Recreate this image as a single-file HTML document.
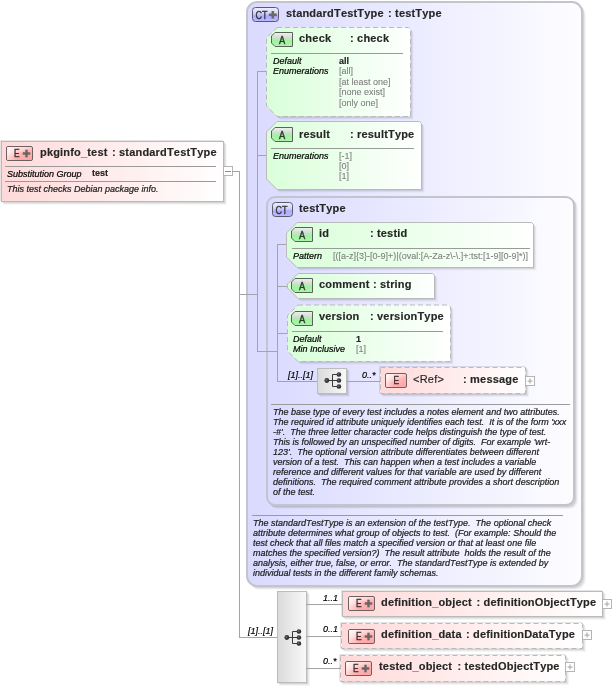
<!DOCTYPE html>
<html><head><meta charset="utf-8"><title>pkginfo_test</title>
<style>html,body{margin:0;padding:0;background:#fff;overflow:hidden}svg{display:block}
text{font-kerning:none;text-rendering:optimizeLegibility}</style></head>
<body><svg width="612" height="688" viewBox="0 0 612 688" font-family="'Liberation Sans', sans-serif" style="font-kerning:none;will-change:transform">
<defs>
<linearGradient id="gPink" x1="0" x2="1" y1="0" y2="0"><stop offset="0" stop-color="#ffd9d9"/><stop offset="1" stop-color="#ffffff"/></linearGradient>
<linearGradient id="gLav" x1="0" x2="1" y1="0" y2="0"><stop offset="0" stop-color="#dadaff"/><stop offset="1" stop-color="#fdfdff"/></linearGradient>
<linearGradient id="gGreen" x1="0" x2="1" y1="0" y2="0"><stop offset="0" stop-color="#d9ffd9"/><stop offset="1" stop-color="#ffffff"/></linearGradient>
<linearGradient id="gSeq" x1="0" x2="1" y1="0" y2="0"><stop offset="0" stop-color="#dadada"/><stop offset="1" stop-color="#f9f9f9"/></linearGradient>
<linearGradient id="gEb" x1="0" x2=".6" y1="0" y2="1"><stop offset="0" stop-color="#fffafa"/><stop offset=".45" stop-color="#ffd2d2"/><stop offset=".6" stop-color="#ffb6b6"/><stop offset="1" stop-color="#ffa6a6"/></linearGradient>
<linearGradient id="gEh" x1="0" x2="1" y1="0" y2="0"><stop offset="0" stop-color="#fff" stop-opacity=".5"/><stop offset=".4" stop-color="#fff" stop-opacity="0"/></linearGradient>
<linearGradient id="gAb" x1="0" x2="0" y1="0" y2="1"><stop offset="0" stop-color="#eef2ee"/><stop offset=".4" stop-color="#cfdccf"/><stop offset=".6" stop-color="#98f898"/><stop offset="1" stop-color="#b4f0b4"/></linearGradient>
<linearGradient id="gCb" x1="0" x2="0" y1="0" y2="1"><stop offset="0" stop-color="#f0f0ff"/><stop offset=".4" stop-color="#d6d6f8"/><stop offset=".62" stop-color="#acacff"/><stop offset="1" stop-color="#bcbcff"/></linearGradient>
<radialGradient id="gDot" cx=".4" cy=".4" r=".6"><stop offset="0" stop-color="#777"/><stop offset=".5" stop-color="#3a3a3a"/><stop offset="1" stop-color="#222"/></radialGradient>
</defs>
<rect x="4" y="144" width="223" height="61" rx="0" fill="#000" fill-opacity="0.035"/>
<rect x="3" y="143" width="223" height="61" rx="0" fill="#000" fill-opacity="0.06"/>
<rect x="2" y="142" width="223" height="61" rx="0" fill="#000" fill-opacity="0.09"/>
<rect x="0" y="140" width="223" height="1" fill="#000" fill-opacity=".1"/>
<rect x="0" y="141" width="1" height="60" fill="#000" fill-opacity=".1"/>
<rect x="1.5" y="141.5" width="222" height="60" rx="0" fill="url(#gPink)" stroke="#bababa"/>
<rect x="6.5" y="146.5" width="26" height="14" rx="1.5" fill="url(#gEb)" stroke="#6e6060"/>
<rect x="7" y="147" width="25" height="13" fill="url(#gEh)"/>
<text x="14" y="157" font-size="10" font-weight="normal" font-style="normal" fill="#3a3030" stroke="#3a3030" stroke-width="0.4" textLength="5.6" lengthAdjust="spacingAndGlyphs">E</text>
<rect x="22.7" y="152.3" width="7.6" height="2.4" fill="#666"/>
<rect x="25.3" y="149.7" width="2.4" height="7.6" fill="#666"/>
<text x="40" y="156" font-size="11" font-weight="bold" font-style="normal" fill="#262626" stroke="#262626" stroke-width="0.15"  textLength="67.35" lengthAdjust="spacing">pkginfo_test</text>
<text x="112" y="156" font-size="11" font-weight="bold" font-style="normal" fill="#262626" stroke="#262626" stroke-width="0.15"  textLength="104.51" lengthAdjust="spacing">: standardTestType</text>
<rect x="5" y="166" width="211" height="1" fill="#9a9a9a"/>
<text x="7" y="177" font-size="9" font-weight="normal" font-style="italic" fill="#000" stroke="#000" stroke-width="0.2" >Substitution Group</text>
<text x="92" y="176" font-size="9" font-weight="bold" font-style="normal" fill="#222" stroke="#222" stroke-width="0.15" >test</text>
<rect x="5" y="181" width="211" height="1" fill="#9a9a9a"/>
<text x="7" y="192" font-size="9" font-weight="normal" font-style="italic" fill="#1a1a1a" stroke="#1a1a1a" stroke-width="0.2" >This test checks Debian package info.</text>
<rect x="223.5" y="166.5" width="9" height="9" fill="#fff" stroke="#b4b4b4"/>
<rect x="225" y="171" width="6" height="1" fill="#8a8a8a"/>
<rect x="232" y="171" width="8" height="1" fill="#a4a4a4"/>
<rect x="239" y="171" width="1" height="467" fill="#a4a4a4"/>
<rect x="239" y="637" width="38" height="1" fill="#a4a4a4"/>
<rect x="250" y="5" width="336" height="585" rx="10" fill="#000" fill-opacity="0.035"/>
<rect x="249" y="4" width="336" height="585" rx="10" fill="#000" fill-opacity="0.06"/>
<rect x="248" y="3" width="336" height="585" rx="10" fill="#000" fill-opacity="0.09"/>
<rect x="247" y="2" width="335" height="584" rx="10" fill="url(#gLav)" stroke="#c4c4cc" stroke-width="2"/>
<rect x="252.5" y="7.5" width="26" height="14" rx="3" fill="url(#gCb)" stroke="#5a5a66"/>
<text x="255.5" y="19" font-size="10.5" font-weight="normal" font-style="normal" fill="#33333d" stroke="#33333d" stroke-width="0.35" textLength="12" lengthAdjust="spacingAndGlyphs">CT</text>
<rect x="268.8" y="13.5" width="8" height="2.6" fill="#6a6a66"/>
<rect x="271.5" y="11.0" width="2.6" height="7.6" fill="#6a6a66"/>
<text x="286" y="17" font-size="11" font-weight="bold" font-style="normal" fill="#262626" stroke="#262626" stroke-width="0.15"  textLength="97.59" lengthAdjust="spacing">standardTestType</text>
<text x="388" y="17" font-size="11" font-weight="bold" font-style="normal" fill="#262626" stroke="#262626" stroke-width="0.15"  textLength="53.51" lengthAdjust="spacing">: testType</text>
<rect x="239" y="294" width="19" height="1" fill="#a4a4a4"/>
<rect x="257" y="71" width="1" height="281" fill="#a4a4a4"/>
<rect x="257" y="71" width="10" height="1" fill="#a4a4a4"/>
<polygon points="280.0,30.5 411.5,30.5 413.5,32.5 413.5,119.5 280.0,119.5 269.5,109.0 269.5,41.0" fill="#000" fill-opacity="0.035"/>
<polygon points="279.0,29.5 410.5,29.5 412.5,31.5 412.5,118.5 279.0,118.5 268.5,108.0 268.5,40.0" fill="#000" fill-opacity="0.06"/>
<polygon points="278.0,28.5 409.5,28.5 411.5,30.5 411.5,117.5 278.0,117.5 267.5,107.0 267.5,39.0" fill="#000" fill-opacity="0.09"/>
<polygon points="277.0,27.5 408.5,27.5 410.5,29.5 410.5,116.5 277.0,116.5 266.5,106.0 266.5,38.0" fill="url(#gGreen)" stroke="#bababa" stroke-dasharray="5 3"/>
<polygon points="275.0,32.5 292.5,32.5 292.5,46.5 275.0,46.5 271.5,43.0 271.5,36.0" fill="url(#gAb)" stroke="#5a625a"/>
<text x="279" y="43.5" font-size="10.3" font-weight="normal" font-style="normal" fill="#303830" stroke="#303830" stroke-width="0.4" textLength="6.2" lengthAdjust="spacingAndGlyphs">A</text>
<text x="299" y="42" font-size="11" font-weight="bold" font-style="normal" fill="#262626" stroke="#262626" stroke-width="0.15"  textLength="32.13" lengthAdjust="spacing">check</text>
<text x="350" y="42" font-size="11" font-weight="bold" font-style="normal" fill="#262626" stroke="#262626" stroke-width="0.15"  textLength="39.05" lengthAdjust="spacing">: check</text>
<rect x="271" y="53" width="132" height="1" fill="#9a9a9a"/>
<text x="273" y="64" font-size="9" font-weight="normal" font-style="italic" fill="#000" stroke="#000" stroke-width="0.2" >Default</text>
<text x="339" y="64" font-size="9" font-weight="bold" font-style="normal" fill="#222" stroke="#222" stroke-width="0.15" >all</text>
<text x="273" y="74" font-size="9" font-weight="normal" font-style="italic" fill="#000" stroke="#000" stroke-width="0.2" >Enumerations</text>
<text x="339" y="74.0" font-size="9" font-weight="normal" font-style="normal" fill="#808080" stroke="#808080" stroke-width="0.1" >[all]</text>
<text x="339" y="84.5" font-size="9" font-weight="normal" font-style="normal" fill="#808080" stroke="#808080" stroke-width="0.1" >[at least one]</text>
<text x="339" y="95.0" font-size="9" font-weight="normal" font-style="normal" fill="#808080" stroke="#808080" stroke-width="0.1" >[none exist]</text>
<text x="339" y="105.5" font-size="9" font-weight="normal" font-style="normal" fill="#808080" stroke="#808080" stroke-width="0.1" >[only one]</text>
<rect x="257" y="155" width="10" height="1" fill="#a4a4a4"/>
<polygon points="280.0,124.5 422.5,124.5 424.5,126.5 424.5,192.5 280.0,192.5 269.5,182.0 269.5,135.0" fill="#000" fill-opacity="0.035"/>
<polygon points="279.0,123.5 421.5,123.5 423.5,125.5 423.5,191.5 279.0,191.5 268.5,181.0 268.5,134.0" fill="#000" fill-opacity="0.06"/>
<polygon points="278.0,122.5 420.5,122.5 422.5,124.5 422.5,190.5 278.0,190.5 267.5,180.0 267.5,133.0" fill="#000" fill-opacity="0.09"/>
<polygon points="277.0,121.5 419.5,121.5 421.5,123.5 421.5,189.5 277.0,189.5 266.5,179.0 266.5,132.0" fill="url(#gGreen)" stroke="#bababa"/>
<polygon points="275.0,127.5 292.5,127.5 292.5,141.5 275.0,141.5 271.5,138.0 271.5,131.0" fill="url(#gAb)" stroke="#5a625a"/>
<text x="279" y="138.5" font-size="10.3" font-weight="normal" font-style="normal" fill="#303830" stroke="#303830" stroke-width="0.4" textLength="6.2" lengthAdjust="spacingAndGlyphs">A</text>
<text x="299" y="138" font-size="11" font-weight="bold" font-style="normal" fill="#262626" stroke="#262626" stroke-width="0.15"  textLength="30.85" lengthAdjust="spacing">result</text>
<text x="350" y="138" font-size="11" font-weight="bold" font-style="normal" fill="#262626" stroke="#262626" stroke-width="0.15"  textLength="64.22" lengthAdjust="spacing">: resultType</text>
<rect x="271" y="148" width="143" height="1" fill="#9a9a9a"/>
<text x="273" y="159" font-size="9" font-weight="normal" font-style="italic" fill="#000" stroke="#000" stroke-width="0.2" >Enumerations</text>
<text x="339" y="159" font-size="9" font-weight="normal" font-style="normal" fill="#808080" stroke="#808080" stroke-width="0.1" >[-1]</text>
<text x="339" y="169" font-size="9" font-weight="normal" font-style="normal" fill="#808080" stroke="#808080" stroke-width="0.1" >[0]</text>
<text x="339" y="179" font-size="9" font-weight="normal" font-style="normal" fill="#808080" stroke="#808080" stroke-width="0.1" >[1]</text>
<rect x="270" y="200" width="308" height="309" rx="8" fill="#000" fill-opacity="0.035"/>
<rect x="269" y="199" width="308" height="309" rx="8" fill="#000" fill-opacity="0.06"/>
<rect x="268" y="198" width="308" height="309" rx="8" fill="#000" fill-opacity="0.09"/>
<rect x="267" y="197" width="307" height="308" rx="8" fill="url(#gLav)" stroke="#c4c4cc" stroke-width="2"/>
<rect x="257" y="351" width="21" height="1" fill="#a4a4a4"/>
<rect x="272.5" y="202.5" width="20" height="14" rx="3" fill="url(#gCb)" stroke="#5a5a66"/>
<text x="275.5" y="214" font-size="10.5" font-weight="normal" font-style="normal" fill="#33333d" stroke="#33333d" stroke-width="0.35" textLength="12" lengthAdjust="spacingAndGlyphs">CT</text>
<text x="299" y="212" font-size="11" font-weight="bold" font-style="normal" fill="#262626" stroke="#262626" stroke-width="0.15"  textLength="46.59" lengthAdjust="spacing">testType</text>
<rect x="277" y="244" width="1" height="138" fill="#a4a4a4"/>
<rect x="277" y="244" width="11" height="1" fill="#a4a4a4"/>
<polygon points="300.0,225.5 534.5,225.5 536.5,227.5 536.5,270.5 300.0,270.5 289.5,260.0 289.5,236.0" fill="#000" fill-opacity="0.035"/>
<polygon points="299.0,224.5 533.5,224.5 535.5,226.5 535.5,269.5 299.0,269.5 288.5,259.0 288.5,235.0" fill="#000" fill-opacity="0.06"/>
<polygon points="298.0,223.5 532.5,223.5 534.5,225.5 534.5,268.5 298.0,268.5 287.5,258.0 287.5,234.0" fill="#000" fill-opacity="0.09"/>
<polygon points="297.0,222.5 531.5,222.5 533.5,224.5 533.5,267.5 297.0,267.5 286.5,257.0 286.5,233.0" fill="url(#gGreen)" stroke="#bababa"/>
<polygon points="295.0,227.5 312.5,227.5 312.5,241.5 295.0,241.5 291.5,238.0 291.5,231.0" fill="url(#gAb)" stroke="#5a625a"/>
<text x="299" y="238.5" font-size="10.3" font-weight="normal" font-style="normal" fill="#303830" stroke="#303830" stroke-width="0.4" textLength="6.2" lengthAdjust="spacingAndGlyphs">A</text>
<text x="319" y="237" font-size="11" font-weight="bold" font-style="normal" fill="#262626" stroke="#262626" stroke-width="0.15"  textLength="10.07" lengthAdjust="spacing">id</text>
<text x="370" y="237" font-size="11" font-weight="bold" font-style="normal" fill="#262626" stroke="#262626" stroke-width="0.15"  textLength="37.14" lengthAdjust="spacing">: testid</text>
<rect x="292" y="248" width="238" height="1" fill="#9a9a9a"/>
<text x="293" y="259" font-size="9" font-weight="normal" font-style="italic" fill="#000" stroke="#000" stroke-width="0.2" >Pattern</text>
<text x="333" y="259" font-size="9" font-weight="normal" font-style="normal" fill="#808080" stroke="#808080" stroke-width="0.1" textLength="195" lengthAdjust="spacing">[([a-z]{3}-[0-9]+)|(oval:[A-Za-z\-\.]+:tst:[1-9][0-9]*)]</text>
<rect x="277" y="286" width="11" height="1" fill="#a4a4a4"/>
<polygon points="301.0,276.5 435.5,276.5 437.5,278.5 437.5,301.5 301.0,301.5 290.5,291.0 290.5,287.0" fill="#000" fill-opacity="0.035"/>
<polygon points="300.0,275.5 434.5,275.5 436.5,277.5 436.5,300.5 300.0,300.5 289.5,290.0 289.5,286.0" fill="#000" fill-opacity="0.06"/>
<polygon points="299.0,274.5 433.5,274.5 435.5,276.5 435.5,299.5 299.0,299.5 288.5,289.0 288.5,285.0" fill="#000" fill-opacity="0.09"/>
<polygon points="298.0,273.5 432.5,273.5 434.5,275.5 434.5,298.5 298.0,298.5 287.5,288.0 287.5,284.0" fill="url(#gGreen)" stroke="#bababa"/>
<polygon points="295.0,278.5 312.5,278.5 312.5,292.5 295.0,292.5 291.5,289.0 291.5,282.0" fill="url(#gAb)" stroke="#5a625a"/>
<text x="299" y="289.5" font-size="10.3" font-weight="normal" font-style="normal" fill="#303830" stroke="#303830" stroke-width="0.4" textLength="6.2" lengthAdjust="spacingAndGlyphs">A</text>
<text x="319" y="288" font-size="11" font-weight="bold" font-style="normal" fill="#262626" stroke="#262626" stroke-width="0.15"  textLength="50.37" lengthAdjust="spacing">comment</text>
<text x="373" y="288" font-size="11" font-weight="bold" font-style="normal" fill="#262626" stroke="#262626" stroke-width="0.15"  textLength="38.39" lengthAdjust="spacing">: string</text>
<rect x="277" y="333" width="11" height="1" fill="#a4a4a4"/>
<polygon points="301.0,308.0 451.5,308.0 453.5,310.0 453.5,364.5 301.0,364.5 290.5,354.0 290.5,318.5" fill="#000" fill-opacity="0.035"/>
<polygon points="300.0,307.0 450.5,307.0 452.5,309.0 452.5,363.5 300.0,363.5 289.5,353.0 289.5,317.5" fill="#000" fill-opacity="0.06"/>
<polygon points="299.0,306.0 449.5,306.0 451.5,308.0 451.5,362.5 299.0,362.5 288.5,352.0 288.5,316.5" fill="#000" fill-opacity="0.09"/>
<polygon points="298.0,305.0 448.5,305.0 450.5,307.0 450.5,361.5 298.0,361.5 287.5,351.0 287.5,315.5" fill="url(#gGreen)" stroke="#bababa" stroke-dasharray="5 3"/>
<polygon points="295.0,311.5 312.5,311.5 312.5,325.5 295.0,325.5 291.5,322.0 291.5,315.0" fill="url(#gAb)" stroke="#5a625a"/>
<text x="299" y="322.5" font-size="10.3" font-weight="normal" font-style="normal" fill="#303830" stroke="#303830" stroke-width="0.4" textLength="6.2" lengthAdjust="spacingAndGlyphs">A</text>
<text x="319" y="320" font-size="11" font-weight="bold" font-style="normal" fill="#262626" stroke="#262626" stroke-width="0.15"  textLength="40.30" lengthAdjust="spacing">version</text>
<text x="370" y="320" font-size="11" font-weight="bold" font-style="normal" fill="#262626" stroke="#262626" stroke-width="0.15"  textLength="73.67" lengthAdjust="spacing">: versionType</text>
<rect x="292" y="331" width="151" height="1" fill="#9a9a9a"/>
<text x="293" y="342" font-size="9" font-weight="normal" font-style="italic" fill="#000" stroke="#000" stroke-width="0.2" >Default</text>
<text x="356" y="342" font-size="9" font-weight="bold" font-style="normal" fill="#222" stroke="#222" stroke-width="0.15" >1</text>
<text x="293" y="352" font-size="9" font-weight="normal" font-style="italic" fill="#000" stroke="#000" stroke-width="0.2" >Min Inclusive</text>
<text x="356" y="352" font-size="9" font-weight="normal" font-style="normal" fill="#808080" stroke="#808080" stroke-width="0.1" >[1]</text>
<rect x="277" y="381" width="41" height="1" fill="#a4a4a4"/>
<text x="288" y="378" font-size="9" font-weight="normal" font-style="italic" fill="#000" stroke="#000" stroke-width="0.2" >[1]..[1]</text>
<rect x="320" y="371" width="30" height="26" rx="0" fill="#000" fill-opacity="0.035"/>
<rect x="319" y="370" width="30" height="26" rx="0" fill="#000" fill-opacity="0.06"/>
<rect x="318" y="369" width="30" height="26" rx="0" fill="#000" fill-opacity="0.09"/>
<rect x="317.5" y="368.5" width="29" height="25" fill="url(#gSeq)" stroke="#bcbcbc"/>
<line x1="326.8" y1="380.5" x2="332.5" y2="380.5" stroke="#3a3a3a" stroke-width="1"/>
<line x1="332.5" y1="374.5" x2="332.5" y2="386.5" stroke="#3a3a3a" stroke-width="1"/>
<line x1="332.5" y1="374.5" x2="338.9" y2="374.5" stroke="#3a3a3a" stroke-width="1"/>
<circle cx="338.9" cy="374.5" r="2.3" fill="url(#gDot)"/>
<line x1="332.5" y1="380.5" x2="338.9" y2="380.5" stroke="#3a3a3a" stroke-width="1"/>
<circle cx="338.9" cy="380.5" r="2.3" fill="url(#gDot)"/>
<line x1="332.5" y1="386.5" x2="338.9" y2="386.5" stroke="#3a3a3a" stroke-width="1"/>
<circle cx="338.9" cy="386.5" r="2.3" fill="url(#gDot)"/>
<circle cx="326.8" cy="380.5" r="2.4" fill="url(#gDot)"/>
<rect x="346" y="381" width="35" height="1" fill="#a4a4a4"/>
<text x="362" y="378" font-size="9" font-weight="normal" font-style="italic" fill="#000" stroke="#000" stroke-width="0.2" >0..*</text>
<rect x="383" y="370" width="146" height="27" rx="0" fill="#000" fill-opacity="0.035"/>
<rect x="382" y="369" width="146" height="27" rx="0" fill="#000" fill-opacity="0.06"/>
<rect x="381" y="368" width="146" height="27" rx="0" fill="#000" fill-opacity="0.09"/>
<rect x="379" y="366" width="146" height="1" fill="#000" fill-opacity=".1"/>
<rect x="379" y="367" width="1" height="26" fill="#000" fill-opacity=".1"/>
<rect x="380.5" y="367.5" width="145" height="26" rx="0" fill="url(#gPink)" stroke="#bababa" stroke-dasharray="5 3"/>
<rect x="385.5" y="373.5" width="21" height="14" rx="1.5" fill="url(#gEb)" stroke="#6e6060"/>
<rect x="386" y="374" width="20" height="13" fill="url(#gEh)"/>
<text x="393.5" y="384" font-size="10" font-weight="normal" font-style="normal" fill="#3a3030" stroke="#3a3030" stroke-width="0.4" textLength="5.6" lengthAdjust="spacingAndGlyphs">E</text>
<text x="413" y="383" font-size="11" font-weight="normal" font-style="normal" fill="#262626" stroke="#262626" stroke-width="0.15"  textLength="30.86" lengthAdjust="spacing">&lt;Ref&gt;</text>
<text x="463" y="383" font-size="11" font-weight="bold" font-style="normal" fill="#262626" stroke="#262626" stroke-width="0.15"  textLength="55.42" lengthAdjust="spacing">: message</text>
<rect x="525.5" y="376.5" width="9" height="9" fill="#fff" stroke="#b4b4b4"/>
<rect x="527.5" y="380.5" width="5" height="1.2" fill="#b0b0b0"/>
<rect x="529.4" y="378.5" width="1.2" height="5" fill="#b0b0b0"/>
<rect x="271" y="404" width="299" height="1" fill="#9a9a9a"/>
<text x="273" y="414.6" font-size="9" font-weight="normal" font-style="italic" fill="#1a1a1a" stroke="#1a1a1a" stroke-width="0.2" style="white-space:pre">The base type of every test includes a notes element and two attributes.</text>
<text x="273" y="424.70000000000005" font-size="9" font-weight="normal" font-style="italic" fill="#1a1a1a" stroke="#1a1a1a" stroke-width="0.2" style="white-space:pre">The required id attribute uniquely identifies each test.  It is of the form 'xxx</text>
<text x="273" y="434.8" font-size="9" font-weight="normal" font-style="italic" fill="#1a1a1a" stroke="#1a1a1a" stroke-width="0.2" style="white-space:pre">-#'.  The three letter character code helps distinguish the type of test.</text>
<text x="273" y="444.90000000000003" font-size="9" font-weight="normal" font-style="italic" fill="#1a1a1a" stroke="#1a1a1a" stroke-width="0.2" style="white-space:pre">This is followed by an unspecified number of digits.  For example 'wrt-</text>
<text x="273" y="455.0" font-size="9" font-weight="normal" font-style="italic" fill="#1a1a1a" stroke="#1a1a1a" stroke-width="0.2" style="white-space:pre">123'.  The optional version attribute differentiates between different</text>
<text x="273" y="465.1" font-size="9" font-weight="normal" font-style="italic" fill="#1a1a1a" stroke="#1a1a1a" stroke-width="0.2" style="white-space:pre">version of a test.  This can happen when a test includes a variable</text>
<text x="273" y="475.20000000000005" font-size="9" font-weight="normal" font-style="italic" fill="#1a1a1a" stroke="#1a1a1a" stroke-width="0.2" style="white-space:pre">reference and different values for that variable are used by different</text>
<text x="273" y="485.3" font-size="9" font-weight="normal" font-style="italic" fill="#1a1a1a" stroke="#1a1a1a" stroke-width="0.2" style="white-space:pre">definitions.  The required comment attribute provides a short description</text>
<text x="273" y="495.40000000000003" font-size="9" font-weight="normal" font-style="italic" fill="#1a1a1a" stroke="#1a1a1a" stroke-width="0.2" style="white-space:pre">of the test.</text>
<rect x="252" y="515" width="311" height="1" fill="#9a9a9a"/>
<text x="253" y="526.0" font-size="9" font-weight="normal" font-style="italic" fill="#1a1a1a" stroke="#1a1a1a" stroke-width="0.2" style="white-space:pre">The standardTestType is an extension of the testType.  The optional check</text>
<text x="253" y="535.95" font-size="9" font-weight="normal" font-style="italic" fill="#1a1a1a" stroke="#1a1a1a" stroke-width="0.2" style="white-space:pre">attribute determines what group of objects to test.  (For example: Should the</text>
<text x="253" y="545.9" font-size="9" font-weight="normal" font-style="italic" fill="#1a1a1a" stroke="#1a1a1a" stroke-width="0.2" style="white-space:pre">test check that all files match a specified version or that at least one file</text>
<text x="253" y="555.85" font-size="9" font-weight="normal" font-style="italic" fill="#1a1a1a" stroke="#1a1a1a" stroke-width="0.2" style="white-space:pre">matches the specified version?)  The result attribute  holds the result of the</text>
<text x="253" y="565.8" font-size="9" font-weight="normal" font-style="italic" fill="#1a1a1a" stroke="#1a1a1a" stroke-width="0.2" style="white-space:pre">analysis, either true, false, or error.  The standardTestType is extended by</text>
<text x="253" y="575.75" font-size="9" font-weight="normal" font-style="italic" fill="#1a1a1a" stroke="#1a1a1a" stroke-width="0.2" style="white-space:pre">individual tests in the different family schemas.</text>
<text x="248" y="634" font-size="9" font-weight="normal" font-style="italic" fill="#000" stroke="#000" stroke-width="0.2" >[1]..[1]</text>
<rect x="280" y="594" width="30" height="92" rx="0" fill="#000" fill-opacity="0.035"/>
<rect x="279" y="593" width="30" height="92" rx="0" fill="#000" fill-opacity="0.06"/>
<rect x="278" y="592" width="30" height="92" rx="0" fill="#000" fill-opacity="0.09"/>
<rect x="277.5" y="591.5" width="29" height="91" fill="url(#gSeq)" stroke="#bcbcbc"/>
<line x1="286.8" y1="637.5" x2="292.5" y2="637.5" stroke="#3a3a3a" stroke-width="1"/>
<line x1="292.5" y1="631.5" x2="292.5" y2="643.5" stroke="#3a3a3a" stroke-width="1"/>
<line x1="292.5" y1="631.5" x2="298.9" y2="631.5" stroke="#3a3a3a" stroke-width="1"/>
<circle cx="298.9" cy="631.5" r="2.3" fill="url(#gDot)"/>
<line x1="292.5" y1="637.5" x2="298.9" y2="637.5" stroke="#3a3a3a" stroke-width="1"/>
<circle cx="298.9" cy="637.5" r="2.3" fill="url(#gDot)"/>
<line x1="292.5" y1="643.5" x2="298.9" y2="643.5" stroke="#3a3a3a" stroke-width="1"/>
<circle cx="298.9" cy="643.5" r="2.3" fill="url(#gDot)"/>
<circle cx="286.8" cy="637.5" r="2.4" fill="url(#gDot)"/>
<rect x="306" y="604" width="36" height="1" fill="#a4a4a4"/>
<rect x="306" y="636" width="36" height="1" fill="#a4a4a4"/>
<rect x="306" y="668" width="35" height="1" fill="#a4a4a4"/>
<text x="323" y="601" font-size="9" font-weight="normal" font-style="italic" fill="#000" stroke="#000" stroke-width="0.2" >1..1</text>
<text x="323" y="632" font-size="9" font-weight="normal" font-style="italic" fill="#000" stroke="#000" stroke-width="0.2" >0..1</text>
<text x="323" y="664" font-size="9" font-weight="normal" font-style="italic" fill="#000" stroke="#000" stroke-width="0.2" >0..*</text>
<rect x="345" y="594" width="261" height="26" rx="0" fill="#000" fill-opacity="0.035"/>
<rect x="344" y="593" width="261" height="26" rx="0" fill="#000" fill-opacity="0.06"/>
<rect x="343" y="592" width="261" height="26" rx="0" fill="#000" fill-opacity="0.09"/>
<rect x="341" y="590" width="261" height="1" fill="#000" fill-opacity=".1"/>
<rect x="341" y="591" width="1" height="25" fill="#000" fill-opacity=".1"/>
<rect x="342.5" y="591.5" width="260" height="25" rx="0" fill="url(#gPink)" stroke="#bababa"/>
<rect x="348.5" y="596.5" width="26" height="14" rx="1.5" fill="url(#gEb)" stroke="#6e6060"/>
<rect x="349" y="597" width="25" height="13" fill="url(#gEh)"/>
<text x="356" y="607" font-size="10" font-weight="normal" font-style="normal" fill="#3a3030" stroke="#3a3030" stroke-width="0.4" textLength="5.6" lengthAdjust="spacingAndGlyphs">E</text>
<rect x="364.7" y="602.3" width="7.6" height="2.4" fill="#666"/>
<rect x="367.3" y="599.7" width="2.4" height="7.6" fill="#666"/>
<text x="381" y="606" font-size="11" font-weight="bold" font-style="normal" fill="#262626" stroke="#262626" stroke-width="0.15"  textLength="90.64" lengthAdjust="spacing">definition_object</text>
<text x="476.5" y="606" font-size="11" font-weight="bold" font-style="normal" fill="#262626" stroke="#262626" stroke-width="0.15"  textLength="119.60" lengthAdjust="spacing">: definitionObjectType</text>
<rect x="602.5" y="599.5" width="9" height="9" fill="#fff" stroke="#b4b4b4"/>
<rect x="604.5" y="603.5" width="5" height="1.2" fill="#b0b0b0"/>
<rect x="606.4" y="601.5" width="1.2" height="5" fill="#b0b0b0"/>
<rect x="344" y="626" width="242" height="26" rx="0" fill="#000" fill-opacity="0.035"/>
<rect x="343" y="625" width="242" height="26" rx="0" fill="#000" fill-opacity="0.06"/>
<rect x="342" y="624" width="242" height="26" rx="0" fill="#000" fill-opacity="0.09"/>
<rect x="340" y="622" width="242" height="1" fill="#000" fill-opacity=".1"/>
<rect x="340" y="623" width="1" height="25" fill="#000" fill-opacity=".1"/>
<rect x="341.5" y="623.5" width="241" height="25" rx="0" fill="url(#gPink)" stroke="#bababa" stroke-dasharray="5 3"/>
<rect x="348.5" y="629.5" width="26" height="14" rx="1.5" fill="url(#gEb)" stroke="#6e6060"/>
<rect x="349" y="630" width="25" height="13" fill="url(#gEh)"/>
<text x="356" y="640" font-size="10" font-weight="normal" font-style="normal" fill="#3a3030" stroke="#3a3030" stroke-width="0.4" textLength="5.6" lengthAdjust="spacingAndGlyphs">E</text>
<rect x="364.7" y="635.3" width="7.6" height="2.4" fill="#666"/>
<rect x="367.3" y="632.7" width="2.4" height="7.6" fill="#666"/>
<text x="381" y="638" font-size="11" font-weight="bold" font-style="normal" fill="#262626" stroke="#262626" stroke-width="0.15"  textLength="80.57" lengthAdjust="spacing">definition_data</text>
<text x="466" y="638" font-size="11" font-weight="bold" font-style="normal" fill="#262626" stroke="#262626" stroke-width="0.15"  textLength="108.90" lengthAdjust="spacing">: definitionDataType</text>
<rect x="582.5" y="630.5" width="9" height="9" fill="#fff" stroke="#b4b4b4"/>
<rect x="584.5" y="634.5" width="5" height="1.2" fill="#b0b0b0"/>
<rect x="586.4" y="632.5" width="1.2" height="5" fill="#b0b0b0"/>
<rect x="343" y="658" width="226" height="27" rx="0" fill="#000" fill-opacity="0.035"/>
<rect x="342" y="657" width="226" height="27" rx="0" fill="#000" fill-opacity="0.06"/>
<rect x="341" y="656" width="226" height="27" rx="0" fill="#000" fill-opacity="0.09"/>
<rect x="339" y="654" width="226" height="1" fill="#000" fill-opacity=".1"/>
<rect x="339" y="655" width="1" height="26" fill="#000" fill-opacity=".1"/>
<rect x="340.5" y="655.5" width="225" height="26" rx="0" fill="url(#gPink)" stroke="#bababa" stroke-dasharray="5 3"/>
<rect x="345.5" y="661.5" width="26" height="14" rx="1.5" fill="url(#gEb)" stroke="#6e6060"/>
<rect x="346" y="662" width="25" height="13" fill="url(#gEh)"/>
<text x="353" y="672" font-size="10" font-weight="normal" font-style="normal" fill="#3a3030" stroke="#3a3030" stroke-width="0.4" textLength="5.6" lengthAdjust="spacingAndGlyphs">E</text>
<rect x="361.7" y="667.3" width="7.6" height="2.4" fill="#666"/>
<rect x="364.3" y="664.7" width="2.4" height="7.6" fill="#666"/>
<text x="379" y="670" font-size="11" font-weight="bold" font-style="normal" fill="#262626" stroke="#262626" stroke-width="0.15"  textLength="73.04" lengthAdjust="spacing">tested_object</text>
<text x="457.5" y="670" font-size="11" font-weight="bold" font-style="normal" fill="#262626" stroke="#262626" stroke-width="0.15"  textLength="101.99" lengthAdjust="spacing">: testedObjectType</text>
<rect x="565.5" y="662.5" width="9" height="9" fill="#fff" stroke="#b4b4b4"/>
<rect x="567.5" y="666.5" width="5" height="1.2" fill="#b0b0b0"/>
<rect x="569.4" y="664.5" width="1.2" height="5" fill="#b0b0b0"/></svg></body></html>
